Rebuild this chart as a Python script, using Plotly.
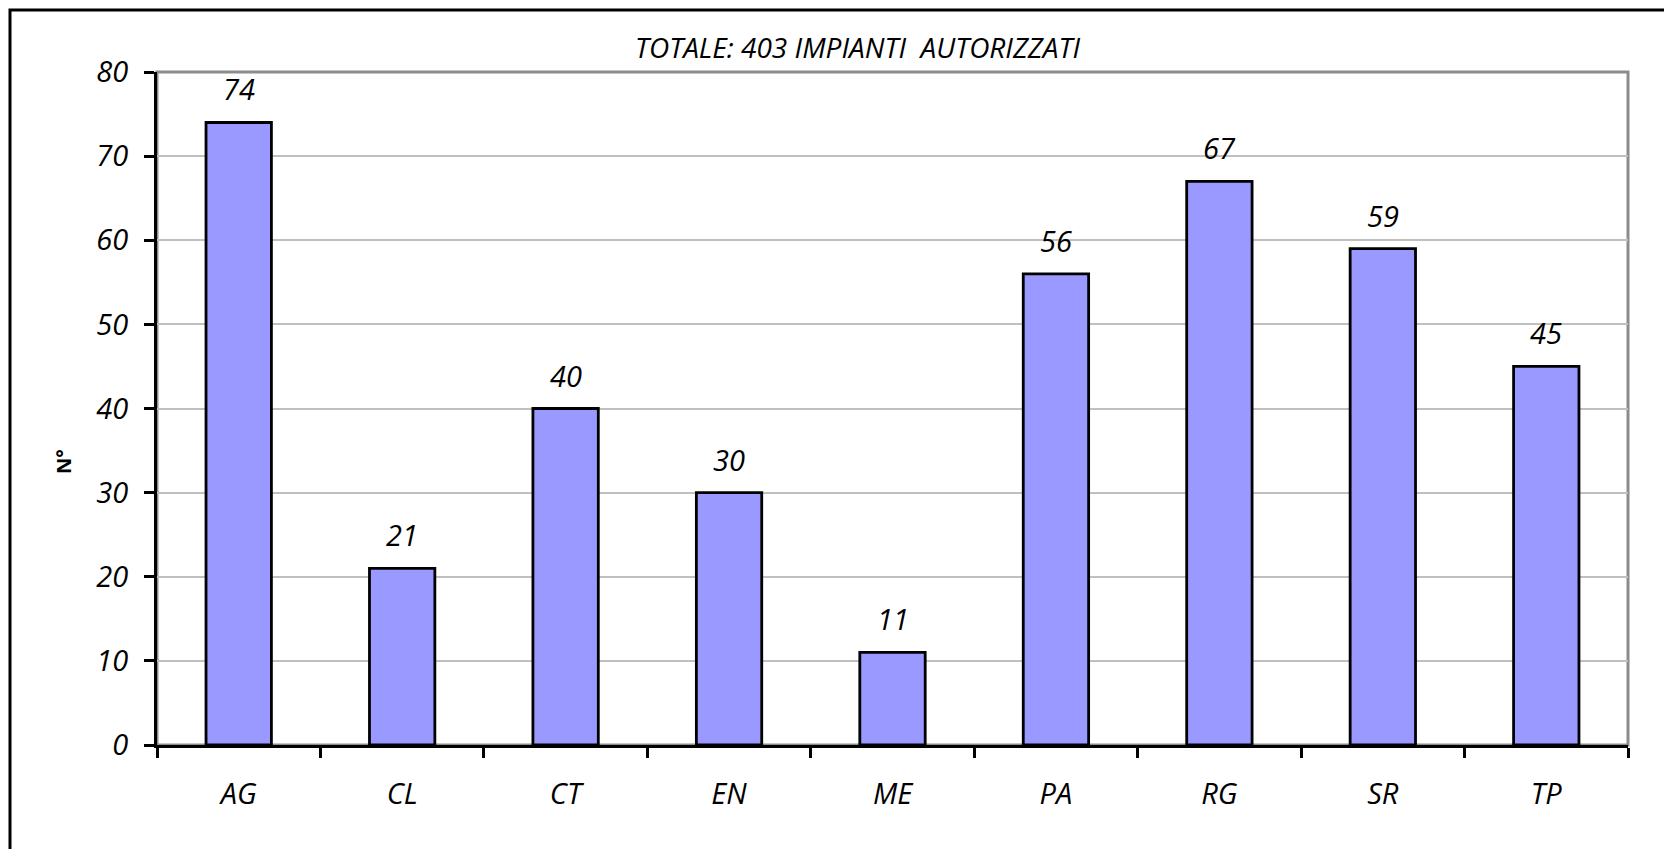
import plotly.graph_objects as go

categories = ["AG", "CL", "CT", "EN", "ME", "PA", "RG", "SR", "TP"]
values = [74, 21, 40, 30, 11, 56, 67, 59, 45]
y_ticks = [0, 10, 20, 30, 40, 50, 60, 70, 80]
title_text = "TOTALE: 403 IMPIANTI  AUTORIZZATI"
y_label = "N°"

FONT = "Open Sans"
OFF = 8  # page body margin
PW, PH = 1471, 673

fig = go.Figure()
fig.add_trace(go.Bar(
    x=categories, y=values,
    marker=dict(color="#9999FF", line=dict(color="black", width=2.8)),
    width=0.4,
))

for c, v in zip(categories, values):
    fig.add_annotation(x=c, y=v, text=str(v), showarrow=False,
                       yanchor="bottom", yshift=12,
                       font=dict(family=FONT, size=29, color="black", style="italic"))

# plot area border (gray top/right)
fig.add_shape(type="rect", xref="paper", yref="paper", x0=0, x1=1, y0=0, y1=1,
              line=dict(color="#8C8C8C", width=3), layer="below")
# outer chart border
fig.add_shape(type="rect", xref="paper", yref="paper",
              x0=(10 - 157) / PW, x1=(1669 - 157) / PW,
              y0=-0.3, y1=(745 - 10) / PH,
              line=dict(color="black", width=3))

fig.add_annotation(xref="paper", yref="paper", x=(857 - 157) / PW, y=(745 - 47) / PH,
                   text=title_text, showarrow=False, xanchor="center", yanchor="middle",
                   font=dict(family=FONT, size=28, color="black", style="italic"))
fig.add_annotation(xref="paper", yref="paper", x=(64 - 157) / PW, y=(745 - 462) / PH,
                   text="<b>" + y_label + "</b>", showarrow=False, textangle=-90,
                   xanchor="center", yanchor="middle",
                   font=dict(family=FONT, size=20, color="black"))

fig.update_layout(
    width=1672 - OFF, height=849 - OFF,
    margin=dict(l=157 - OFF, r=1672 - 157 - PW, t=72 - OFF, b=849 - 72 - PH),
    plot_bgcolor="white", paper_bgcolor="white",
    showlegend=False, bargap=0.6,
    font=dict(family=FONT, color="black"),
)
fig.update_xaxes(
    showline=True, linecolor="black", linewidth=3,
    ticks="outside", tickson="boundaries", ticklen=10, tickwidth=3, tickcolor="black",
    tickfont=dict(family=FONT, size=29, style="italic", color="black"),
    ticklabelstandoff=21, showgrid=False,
)
fig.update_yaxes(
    range=[0, 80], tickvals=y_ticks,
    showline=True, linecolor="black", linewidth=3,
    ticks="outside", ticklen=10, tickwidth=3, tickcolor="black",
    tickfont=dict(family=FONT, size=29, style="italic", color="black"),
    ticklabelstandoff=10,
    showgrid=True, gridcolor="#C0C0C0", gridwidth=2, zeroline=False,
)

fig.write_html("out.html")
